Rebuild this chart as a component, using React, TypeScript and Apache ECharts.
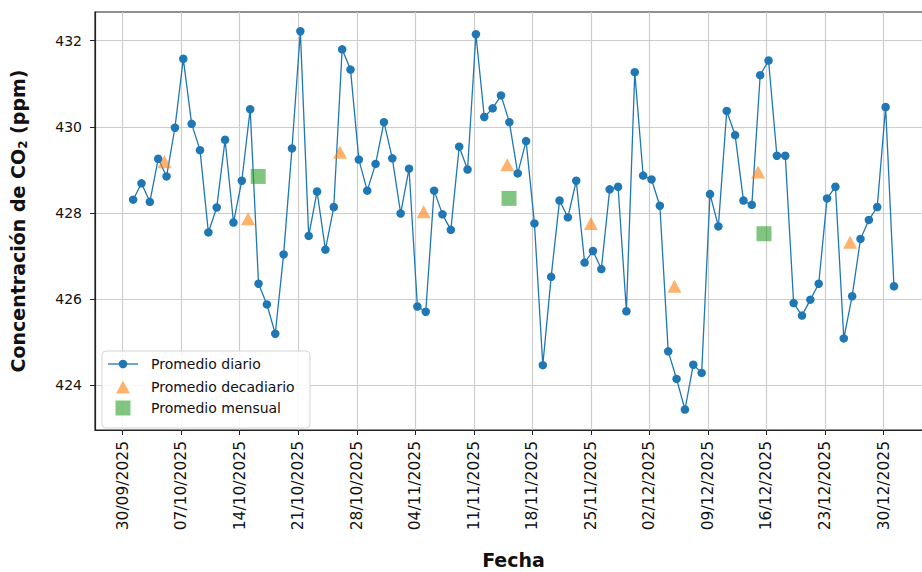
import React, { useEffect, useRef } from "react";
import * as echarts from "echarts";

// ---- data ----
const firstDailyDate = "2025-10-01T06:00";
const dailyValues = [
  428.31, 428.69, 428.26, 429.26, 428.85, 429.98, 431.58, 430.07, 429.46, 427.55,
  428.13, 429.7, 427.78, 428.75, 430.41, 426.36, 425.88, 425.2, 427.04, 429.5,
  432.22, 427.47, 428.5, 427.15, 428.14, 431.8, 431.33, 429.24, 428.52, 429.14,
  430.11, 429.27, 427.99, 429.03, 425.83, 425.71, 428.52, 427.97, 427.61, 429.54,
  429.01, 432.15, 430.23, 430.43, 430.73, 430.11, 428.92, 429.67, 427.76, 424.47,
  426.52, 428.29, 427.9, 428.75, 426.85, 427.12, 426.7, 428.55, 428.61, 425.72,
  431.27, 428.87, 428.78, 428.17, 424.79, 424.15, 423.44, 424.48, 424.29, 428.44,
  427.69, 430.37, 429.81, 428.29, 428.19, 431.2, 431.54, 429.33, 429.33, 425.91,
  425.62, 425.99, 426.36, 428.34, 428.61, 425.09, 426.07, 427.4, 427.84, 428.14,
  430.46, 426.3,
];
const decadalDates = [
  "2025-10-05T00:00", "2025-10-15T00:00", "2025-10-26T00:00",
  "2025-11-05T00:00", "2025-11-15T00:00", "2025-11-25T00:00",
  "2025-12-05T00:00", "2025-12-15T00:00", "2025-12-26T00:00",
];
const decadalValues = [429.19, 427.87, 429.41, 428.03, 429.12, 427.76, 426.3, 428.95, 427.32];
const monthlyDates = ["2025-10-16T05:00", "2025-11-15T05:00", "2025-12-15T17:00"];
const monthlyValues = [428.85, 428.34, 427.52];
const xTickLabels = [
  "30/09/2025", "07/10/2025", "14/10/2025", "21/10/2025", "28/10/2025",
  "04/11/2025", "11/11/2025", "18/11/2025", "25/11/2025", "02/12/2025",
  "09/12/2025", "16/12/2025", "23/12/2025", "30/12/2025",
];
const yTickValues = [424, 426, 428, 430, 432];
const seriesNames = ["Promedio diario", "Promedio decadiario", "Promedio mensual"];

// ---- helpers ----
const BASE = Date.UTC(2025, 8, 30);
const DAY = 86400000;
const toDays = (iso: string) => (Date.parse(iso + ":00Z") - BASE) / DAY;
const labelToDays = (lbl: string) => {
  const [d, m, y] = lbl.split("/").map(Number);
  return (Date.UTC(y, m - 1, d) - BASE) / DAY;
};
const pad = (n: number) => String(n).padStart(2, "0");
const fmtDate = (v: number) => {
  const dt = new Date(BASE + Math.round(v) * DAY);
  return `${pad(dt.getUTCDate())}/${pad(dt.getUTCMonth() + 1)}/${dt.getUTCFullYear()}`;
};

const FONT = "DejaVu Sans";
const BLUE = "#1f77b4";
const ORANGE = "#ff7f0e";
const GREEN = "#2ca02c";

export default function App() {
  const ref = useRef<HTMLDivElement>(null);
  useEffect(() => {
    if (!ref.current) return;
    const chart = echarts.init(ref.current, null, { renderer: "svg" });
    const d0 = toDays(firstDailyDate);
    const dailyData = dailyValues.map((v, i) => [d0 + i, v]);
    const decData = decadalValues.map((v, i) => [toDays(decadalDates[i]), v]);
    const monData = monthlyValues.map((v, i) => [toDays(monthlyDates[i]), v]);
    const xTicks = xTickLabels.map(labelToDays);

    const legendText = (y: number, text: string) => ({
      type: "text",
      x: 151,
      y,
      style: { text, fontFamily: FONT, fontSize: 14, fill: "#111", verticalAlign: "middle", align: "left" },
    });

    chart.setOption({
      animation: false,
      backgroundColor: "#ffffff",
      grid: {
        left: 95,
        right: 8,
        top: 12,
        bottom: 142,
        outerBoundsMode: "none",
        containLabel: false,
        show: true,
        borderColor: "#222",
        borderWidth: 1.2,
        backgroundColor: "transparent",
      },
      xAxis: {
        type: "value",
        min: -3.31,
        max: 96.8,
        axisLine: { show: true, onZero: false, lineStyle: { color: "#222", width: 1.2 } },
        axisTick: { show: true, customValues: xTicks, length: 5, lineStyle: { color: "#222", width: 1 } },
        axisLabel: {
          customValues: xTicks,
          rotate: 90,
          formatter: (v: number) => fmtDate(v),
          fontSize: 15.5,
          fontFamily: FONT,
          color: "#111",
          margin: 11,
        },
        splitLine: { show: true, lineStyle: { color: "#cdcdcd", width: 1.2 } },
        name: "Fecha",
        nameLocation: "middle",
        nameGap: 120,
        nameTextStyle: { fontFamily: FONT, fontWeight: "bold", fontSize: 19, color: "#111" },
      },
      yAxis: {
        type: "value",
        min: 422.965,
        max: 432.666,
        axisLine: { show: true, onZero: false, lineStyle: { color: "#222", width: 1.2 } },
        axisTick: { show: true, customValues: yTickValues, length: 5, lineStyle: { color: "#222", width: 1 } },
        axisLabel: {
          customValues: yTickValues,
          fontSize: 14,
          fontFamily: FONT,
          color: "#111",
          margin: 13,
        },
        splitLine: { show: true, lineStyle: { color: "#cdcdcd", width: 1.2 } },
        name: "Concentración de CO{sub|2} (ppm)",
        nameLocation: "middle",
        nameRotate: 90,
        nameGap: 66,
        nameTextStyle: {
          fontFamily: FONT,
          fontWeight: "bold",
          fontSize: 19,
          color: "#111",
          rich: {
            sub: { fontFamily: FONT, fontWeight: "bold", fontSize: 12, color: "#111", padding: [10, 0, 0, 0] },
          },
        },
      },
      graphic: [
        {
          type: "rect",
          z: 100,
          shape: { x: 102, y: 351, width: 208, height: 77, r: 4 },
          style: { fill: "rgba(255,255,255,0.85)", stroke: "#d6d6d6", lineWidth: 1 },
        },
        {
          type: "line",
          z: 101,
          shape: { x1: 108, y1: 364, x2: 138, y2: 364 },
          style: { stroke: BLUE, lineWidth: 1.3 },
        },
        {
          type: "circle",
          z: 101,
          shape: { cx: 123, cy: 364, r: 4.25 },
          style: { fill: BLUE },
        },
        {
          type: "polygon",
          z: 101,
          shape: { points: [[123, 380.5], [116, 393.5], [130, 393.5]] },
          style: { fill: ORANGE, opacity: 0.6 },
        },
        {
          type: "rect",
          z: 101,
          shape: { x: 115.5, y: 400.5, width: 15, height: 15 },
          style: { fill: GREEN, opacity: 0.6 },
        },
        { ...legendText(364, seriesNames[0]), z: 101 },
        { ...legendText(387, seriesNames[1]), z: 101 },
        { ...legendText(408, seriesNames[2]), z: 101 },
      ],
      series: [
        {
          name: seriesNames[0],
          type: "line",
          data: dailyData,
          symbol: "circle",
          symbolSize: 8.5,
          lineStyle: { color: BLUE, width: 1.3 },
          itemStyle: { color: BLUE },
          z: 2,
        },
        {
          name: seriesNames[1],
          type: "scatter",
          data: decData,
          symbol: "triangle",
          symbolSize: [14, 13],
          itemStyle: { color: ORANGE, opacity: 0.6 },
          z: 3,
        },
        {
          name: seriesNames[2],
          type: "scatter",
          data: monData,
          symbol: "rect",
          symbolSize: 15,
          itemStyle: { color: GREEN, opacity: 0.6 },
          z: 4,
        },
      ],
    });
    return () => chart.dispose();
  }, []);
  return (
    <div style={{ position: "absolute", left: 0, top: 0, width: 922, height: 572, overflow: "hidden" }}>
      <div ref={ref} style={{ width: 940, height: 572 }} />
    </div>
  );
}
